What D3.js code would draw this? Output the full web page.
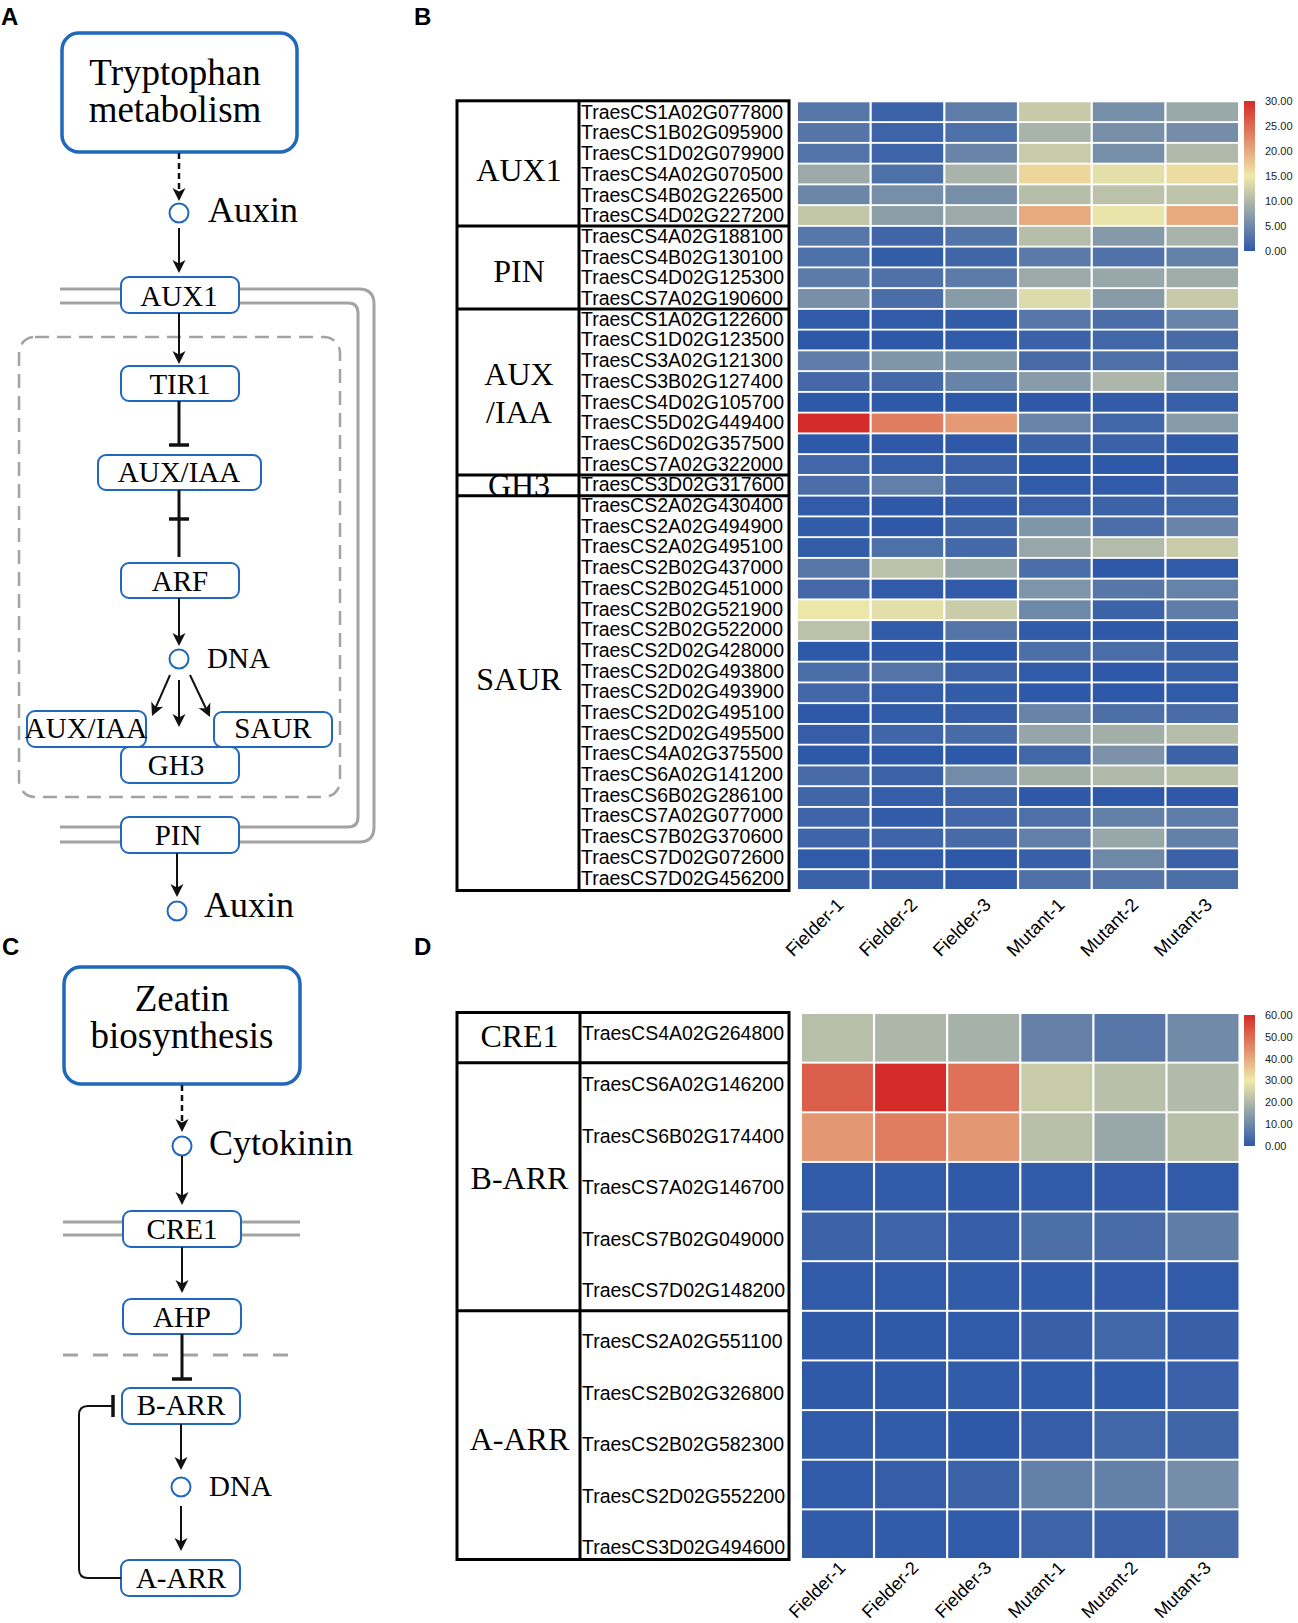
<!DOCTYPE html>
<html><head><meta charset="utf-8">
<script src="https://cdn.jsdelivr.net/npm/d3@7"></script>
<style>body{margin:0;background:#fff}svg{display:block}</style>
</head><body>
<svg id="fig" width="1298" height="1623"></svg>
<script>
// ---------------- DATA ----------------
const samples = ["Fielder-1","Fielder-2","Fielder-3","Mutant-1","Mutant-2","Mutant-3"];

const auxGroups = [
  {name:["AUX1"], size:6},
  {name:["PIN"], size:4},
  {name:["AUX","/IAA"], size:8},
  {name:["GH3"], size:1},
  {name:["SAUR"], size:19}
];
const auxGenes = [
  "TraesCS1A02G077800","TraesCS1B02G095900","TraesCS1D02G079900","TraesCS4A02G070500","TraesCS4B02G226500","TraesCS4D02G227200",
  "TraesCS4A02G188100","TraesCS4B02G130100","TraesCS4D02G125300","TraesCS7A02G190600",
  "TraesCS1A02G122600","TraesCS1D02G123500","TraesCS3A02G121300","TraesCS3B02G127400","TraesCS4D02G105700","TraesCS5D02G449400","TraesCS6D02G357500","TraesCS7A02G322000",
  "TraesCS3D02G317600",
  "TraesCS2A02G430400","TraesCS2A02G494900","TraesCS2A02G495100","TraesCS2B02G437000","TraesCS2B02G451000","TraesCS2B02G521900","TraesCS2B02G522000","TraesCS2D02G428000","TraesCS2D02G493800","TraesCS2D02G493900","TraesCS2D02G495100","TraesCS2D02G495500","TraesCS4A02G375500","TraesCS6A02G141200","TraesCS6B02G286100","TraesCS7A02G077000","TraesCS7B02G370600","TraesCS7D02G072600","TraesCS7D02G456200"
];
const auxValues = [
  [3.1,1.1,3.7,11.8,5.7,8.3],
  [3.0,1.2,2.5,9.5,5.6,5.5],
  [2.9,1.2,4.5,11.9,5.6,10.0],
  [8.5,2.5,9.5,16.5,14.0,16.0],
  [4.8,5.6,5.6,10.5,11.0,11.2],
  [11.5,7.2,8.5,20.0,14.5,20.0],
  [3.2,1.4,2.9,10.5,6.8,9.5],
  [2.5,0.5,1.4,3.5,2.7,4.2],
  [3.6,2.6,3.6,8.5,8.2,8.8],
  [5.7,2.3,7.0,13.5,7.0,11.8],
  [0.2,0.2,0.4,3.2,2.2,4.5],
  [0.0,0.0,0.2,1.0,1.5,2.0],
  [3.8,6.3,6.3,2.0,2.5,2.2],
  [1.7,1.7,4.4,6.9,9.8,6.5],
  [0.0,0.0,0.0,0.1,0.3,0.8],
  [30.0,23.6,21.2,4.6,1.5,6.9],
  [0.0,0.1,0.1,1.1,1.0,0.3],
  [1.5,0.6,1.0,0.0,0.0,0.1],
  [2.3,4.0,1.4,0.3,0.2,1.3],
  [0.2,0.1,0.3,0.9,1.1,1.5],
  [0.4,0.1,1.4,6.3,2.3,4.6],
  [0.5,2.5,1.7,8.1,10.3,12.0],
  [3.1,11.0,8.3,2.3,0.1,0.2],
  [1.7,0.2,0.2,6.2,3.2,4.3],
  [14.8,14.0,12.0,5.0,1.1,3.8],
  [11.0,0.2,3.0,0.2,0.1,0.3],
  [0.0,0.0,0.1,2.4,2.2,1.1],
  [2.3,3.0,1.1,0.2,0.1,0.8],
  [1.6,0.6,0.3,0.1,0.1,0.2],
  [0.1,0.3,0.7,4.4,2.4,2.1],
  [0.6,1.4,2.0,8.0,9.0,10.6],
  [0.0,0.0,0.0,1.5,6.0,1.1],
  [2.0,1.1,5.3,9.0,10.0,10.9],
  [1.4,0.6,1.2,0.1,0.1,0.1],
  [1.3,0.3,1.6,2.5,4.1,3.7],
  [1.3,1.3,2.0,4.0,8.2,4.1],
  [0.2,0.2,0.1,0.8,5.0,1.0],
  [1.0,0.7,0.2,2.6,3.0,2.4]
];
const auxLegendTicks = [0,5,10,15,20,25,30];

const ckGroups = [
  {name:["CRE1"], size:1},
  {name:["B-ARR"], size:5},
  {name:["A-ARR"], size:5}
];
const ckGenes = [
  "TraesCS4A02G264800",
  "TraesCS6A02G146200","TraesCS6B02G174400","TraesCS7A02G146700","TraesCS7B02G049000","TraesCS7D02G148200",
  "TraesCS2A02G551100","TraesCS2B02G326800","TraesCS2B02G582300","TraesCS2D02G552200","TraesCS3D02G494600"
];
const ckValues = [
  [21.3,19.7,18.6,8.5,6.5,10.3],
  [52.0,60.0,49.0,23.8,21.5,20.5],
  [43.0,47.0,43.0,21.6,16.5,21.5],
  [0.5,0.8,0.3,0.6,0.7,0.4],
  [2.2,2.3,1.3,4.8,4.2,7.7],
  [0.4,0.4,0.6,0.8,0.7,0.5],
  [0.3,0.3,0.5,1.5,3.0,1.5],
  [0.3,0.3,0.6,0.8,0.8,1.7],
  [0.5,0.8,0.2,1.2,3.0,2.8],
  [0.5,1.3,2.2,8.2,8.2,11.0],
  [0.6,0.8,0.4,2.5,2.0,4.0]
];
const ckLegendTicks = [0,10,20,30,40,50,60];

// ---------------- DRAW ----------------
const svg = d3.select("#fig");
const defs = svg.append("defs");
const SERIF = "'Liberation Serif','Times New Roman',serif";
const SANS = "'Liberation Sans',Arial,sans-serif";
const BLUE = "#1f68bb";
const GREY = "#a3a3a3";

function colorFor(max){
  return d3.scaleLinear().domain([0,max/2,max]).range(["#2e58a8","#efe9a9","#d42b29"]);
}

let clipId = 0;
function heatmap(o){
  const g = svg.append("g");
  const color = colorFor(o.max);
  const x = d3.scaleBand().domain(samples).range([o.hx0,o.hx1]).paddingInner(o.padX);
  const y = d3.scaleBand().domain(o.genes).range([o.hy0,o.hy1]).paddingInner(o.padY);
  const cells = [];
  o.genes.forEach((gn,i)=>samples.forEach((s,j)=>cells.push({gene:gn,sample:s,v:o.values[i][j]})));
  g.selectAll("rect.cell").data(cells).join("rect").attr("class","cell")
    .attr("x",d=>x(d.sample)).attr("y",d=>y(d.gene))
    .attr("width",x.bandwidth()).attr("height",y.bandwidth())
    .attr("fill",d=>color(d.v));

  // table
  const gap = y.step()-y.bandwidth();
  const top = o.hy0-1.5, bot = o.hy1+1.5;
  const n = o.genes.length;
  // gene labels
  g.selectAll("text.gene").data(o.genes).join("text").attr("class","gene")
    .attr("x",o.tDiv+2)
    .attr("y",(d,i)=>y(d)+y.bandwidth()/2 + o.lblOff0 + (o.lblOff1-o.lblOff0)*i/(n-1))
    .attr("dy","0.36em")
    .attr("font-family",SANS).attr("font-size",o.geneFs).attr("fill","#000").text(d=>d);
  // group labels and boundaries
  let idx = 0;
  const bounds = [];
  o.groups.forEach((gr,k)=>{
    const g0 = k===0 ? top : y(o.genes[idx]) - gap/2;
    const last = idx+gr.size-1;
    const g1 = (idx+gr.size>=n) ? bot : y(o.genes[last]) + y.bandwidth() + gap/2;
    if(k>0) bounds.push(g0);
    const cid = "clip"+(clipId++);
    defs.append("clipPath").attr("id",cid).append("rect")
      .attr("x",o.tx0).attr("y",g0).attr("width",o.tDiv-o.tx0).attr("height",g1-g0);
    const cy = (g0+g1)/2 + (o.groupDy[k]||0);
    const nl = gr.name.length;
    const t = g.append("text").attr("clip-path","url(#"+cid+")")
      .attr("font-family",SERIF).attr("font-size",o.groupFs).attr("text-anchor","middle");
    gr.name.forEach((ln,li)=>{
      t.append("tspan").attr("x",(o.tx0+o.tDiv)/2+1)
        .attr("y",cy + (li-(nl-1)/2)*o.groupFs*1.2).attr("dy","0.35em").text(ln);
    });
    idx += gr.size;
  });
  const lw = 3;
  g.append("rect").attr("x",o.tx0).attr("y",top).attr("width",o.tx1-o.tx0).attr("height",bot-top)
    .attr("fill","none").attr("stroke","#000").attr("stroke-width",lw);
  g.append("line").attr("x1",o.tDiv).attr("x2",o.tDiv).attr("y1",top).attr("y2",bot)
    .attr("stroke","#000").attr("stroke-width",lw);
  g.selectAll("line.sep").data(bounds).join("line").attr("class","sep")
    .attr("x1",o.tx0).attr("x2",o.tx1).attr("y1",d=>d).attr("y2",d=>d)
    .attr("stroke","#000").attr("stroke-width",lw);

  // column labels
  g.selectAll("text.col").data(samples).join("text").attr("class","col")
    .attr("transform",d=>`translate(${x(d)+x.bandwidth()/2+o.colDx},${o.hy1+o.colDy}) rotate(-45)`)
    .attr("text-anchor","end").attr("font-family",SANS).attr("font-size",o.colFs).text(d=>d);

  // legend
  const gid = "grad"+(clipId++);
  const grad = defs.append("linearGradient").attr("id",gid).attr("x1",0).attr("y1",1).attr("x2",0).attr("y2",0);
  d3.range(0,1.0001,0.05).forEach(f=>grad.append("stop").attr("offset",f).attr("stop-color",color(f*o.max)));
  const ly = d3.scaleLinear().domain([0,o.max]).range([o.ly1,o.ly0]);
  g.append("rect").attr("x",o.lx).attr("y",o.ly0).attr("width",o.lw).attr("height",o.ly1-o.ly0)
    .attr("fill",`url(#${gid})`);
  g.selectAll("text.lt").data(o.ticks).join("text").attr("class","lt")
    .attr("x",o.lx+o.lw+10).attr("y",d=>ly(d)).attr("dy","0.35em")
    .attr("font-family",SANS).attr("font-size",11).attr("fill","#222").text(d=>d3.format(".2f")(d));
}

heatmap({genes:auxGenes, values:auxValues, groups:auxGroups, max:30,
  hx0:798, hx1:1238, hy0:102.3, hy1:889, padX:0.03, padY:0.09,
  tx0:457, tDiv:579, tx1:789, geneFs:19.5, groupFs:32, groupDy:[6,3,1,0,-14],
  lblOff0:0, lblOff1:-2,
  colDx:11, colDy:17, colFs:18.5,
  lx:1244, lw:11, ly0:101, ly1:251, ticks:auxLegendTicks});

heatmap({genes:ckGenes, values:ckValues, groups:ckGroups, max:60,
  hx0:802, hx1:1238.5, hy0:1014, hy1:1558, padX:0.03, padY:0.04,
  tx0:457, tDiv:580, tx1:789, geneFs:19.5, groupFs:32, groupDy:[-2,-9,4],
  lblOff0:-5, lblOff1:13,
  colDx:9, colDy:11, colFs:18,
  lx:1244, lw:11, ly0:1015, ly1:1146, ticks:ckLegendTicks});

// ---------------- PATHWAY DIAGRAMS ----------------
defs.append("marker").attr("id","ah").attr("viewBox","-10 -8 16 16")
  .attr("refX",0).attr("refY",0).attr("markerWidth",16).attr("markerHeight",16)
  .attr("markerUnits","userSpaceOnUse").attr("orient","auto")
  .append("path").attr("d","M5,0 L-8,-6.5 L-4.5,0 L-8,6.5 Z").attr("fill","#111");

const dg = svg.append("g");
function line(x1,y1,x2,y2,opt={}){
  return dg.append("line").attr("x1",x1).attr("y1",y1).attr("x2",x2).attr("y2",y2)
    .attr("stroke",opt.color||"#111").attr("stroke-width",opt.w||2)
    .attr("stroke-dasharray",opt.dash||null);
}
function arrow(x1,y1,x2,y2,dash){
  const L = Math.hypot(x2-x1,y2-y1), ux=(x2-x1)/L, uy=(y2-y1)/L;
  line(x1,y1,x2-5*ux,y2-5*uy,{dash:dash,w:dash?2.5:2}).attr("marker-end","url(#ah)");
}
function tbar(x,y1,y2,barY){
  line(x,y1,x,y2,{w:3});
  line(x-10,barY,x+10,barY,{w:3.5});
}
function box(x,y,w,h,label,tx,ty,big){
  dg.append("rect").attr("x",x).attr("y",y).attr("width",w).attr("height",h)
    .attr("rx",big?17:8).attr("fill","#fff").attr("stroke",BLUE).attr("stroke-width",big?3.5:2);
  const lines = Array.isArray(label)?label:[label];
  lines.forEach((l,i)=>dg.append("text").attr("x",tx).attr("y",Array.isArray(ty)?ty[i]:ty)
    .attr("text-anchor","middle").attr("font-family",SERIF).attr("font-size",big?37:29).text(l));
}
function circ(x,y){ dg.append("circle").attr("cx",x).attr("cy",y).attr("r",9.5).attr("fill","#fff").attr("stroke",BLUE).attr("stroke-width",2); }
function label(x,y,t,fs){ dg.append("text").attr("x",x).attr("y",y).attr("font-family",SERIF).attr("font-size",fs).text(t); }
function panel(x,y,t){ svg.append("text").attr("x",x).attr("y",y).attr("font-family",SANS).attr("font-weight","bold").attr("font-size",24).text(t); }

panel(1,25,"A"); panel(414,25,"B"); panel(2,955,"C"); panel(414,955,"D");

// Panel A
dg.append("rect").attr("x",19).attr("y",337).attr("width",321).attr("height",460).attr("rx",16)
  .attr("fill","none").attr("stroke",GREY).attr("stroke-width",2.5).attr("stroke-dasharray","14,8");
const mem = (d)=>dg.append("path").attr("d",d).attr("fill","none").attr("stroke",GREY).attr("stroke-width",3);
mem("M60,289 H125"); mem("M60,303 H125");
mem("M235,289 H359 Q374,289 374,304 V827 Q374,842 359,842 H235");
mem("M235,303 H348 Q358,303 358,313 V817 Q358,827 348,827 H235");
mem("M60,827 H125"); mem("M60,842 H125");

box(62,33,235,119,["Tryptophan","metabolism"],175,[85,122],true);
arrow(179,153,179,201,"6,4");
circ(179,213); label(208,222,"Auxin",36);
arrow(179,228,179,273);
box(121,277,118,36,"AUX1",179,306);
arrow(179,313,179,364);
box(121,366,118,35,"TIR1",180,394);
tbar(179,401,445,445);
box(98,455,163,35,"AUX/IAA",179,482);
tbar(179,490,557,519);
box(121,563,118,35,"ARF",180,591);
arrow(179,598,179,646);
circ(179,659); label(207,668,"DNA",29);
arrow(170,675,152,716); arrow(179,680,179,727); arrow(190,675,210,717);
box(27,711,119,36,"AUX/IAA",86,738);
box(214,712,118,35,"SAUR",273,738);
box(121,747,118,36,"GH3",176,775);
box(121,817,118,36,"PIN",178,845);
arrow(177,853,177,897);
circ(177,911); label(204,917,"Auxin",36);

// Panel C
box(64,967,236,117,["Zeatin","biosynthesis"],182,[1011,1048],true);
arrow(182,1085,182,1132,"6,4");
circ(182,1146); label(209,1155,"Cytokinin",36);
arrow(182,1156,182,1205);
mem("M63,1222 H125"); mem("M63,1235 H125"); mem("M239,1222 H300"); mem("M239,1235 H300");
box(123,1211,118,36,"CRE1",182,1239);
arrow(182,1247,182,1293);
box(123,1299,118,35,"AHP",182,1327);
line(63,1355,300,1355,{color:GREY,w:3,dash:"15,15"});
tbar(182,1334,1379,1379);
box(122,1388,118,36,"B-ARR",181,1415);
arrow(181,1424,181,1470);
circ(181,1487); label(209,1496,"DNA",29);
arrow(181,1506,181,1551);
box(121,1560,119,36,"A-ARR",181,1588);
dg.append("path").attr("d","M121,1578 H88 Q79,1578 79,1569 V1415 Q79,1406 88,1406 H112")
  .attr("fill","none").attr("stroke","#111").attr("stroke-width",2);
line(113,1395,113,1417,{w:3.5});
</script>
</body></html>
